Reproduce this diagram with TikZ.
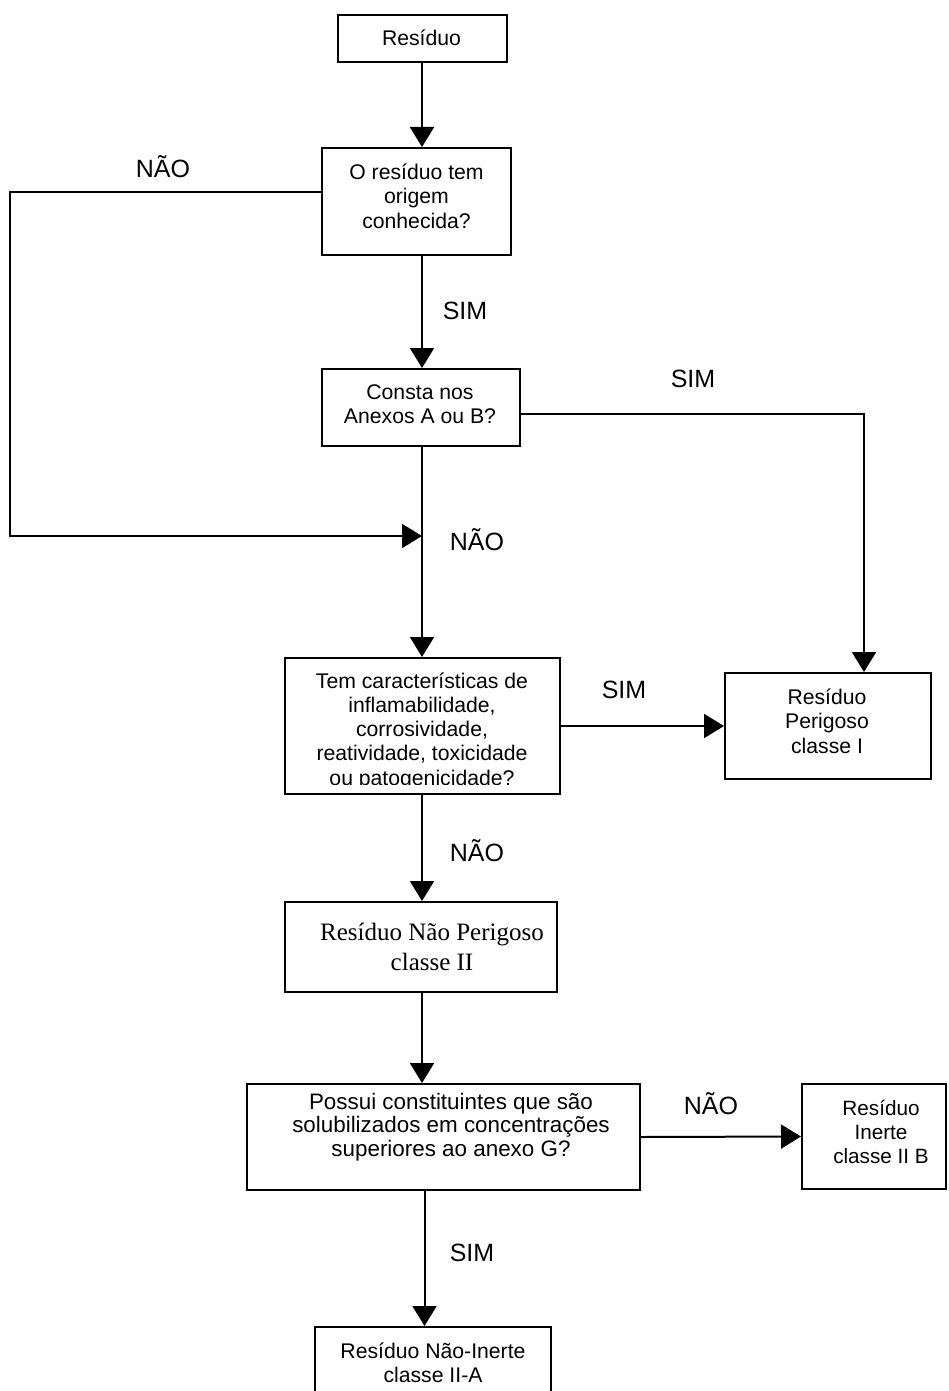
\documentclass[tikz,border=0pt]{standalone}
\usepackage{fontspec}
\setmainfont{Liberation Sans}
\newfontfamily\serifbox{Liberation Serif}
\usetikzlibrary{arrows.meta}

\begin{document}
\begin{tikzpicture}[x=1pt,y=-1pt,
  box/.style={draw,line width=2pt,inner sep=0pt,rectangle},
  txt/.style={align=center,inner sep=0pt,font=\fontsize{21.2}{24.3}\selectfont},
  stxt/.style={align=center,inner sep=0pt,font=\serifbox\fontsize{25}{30}\selectfont},
  lbl/.style={inner sep=0pt,font=\fontsize{25}{30}\selectfont},
  flow/.style={line width=2pt},
  arr/.style={flow,-{Triangle[length=20pt,width=24pt]}},
]
\clip (0,0) rectangle (948,1391);

% boxes
\node[box,minimum width=169,minimum height=47]  (b1) at (422.5,38.5) {};
\node[box,minimum width=189,minimum height=107] (b2) at (416.5,201.5) {};
\node[box,minimum width=198,minimum height=77]  (b3) at (421,407.5) {};
\node[box,minimum width=275,minimum height=136] (b4) at (422.5,726) {};
\node[box,minimum width=206,minimum height=106] (b5) at (828,726) {};
\node[box,minimum width=272,minimum height=90]  (b6) at (421,947) {};
\node[box,minimum width=393,minimum height=106] (b7) at (443.5,1137) {};
\node[box,minimum width=144,minimum height=105] (b9) at (874,1136.5) {};
\node[box,minimum width=236,minimum height=93]  (b8) at (433,1373.5) {};

% box texts
\node[txt] (t1) at (421.5,38) {Resíduo};
\node[txt] (t2) at (416.5,196) {O resíduo tem\\origem\\conhecida?};
\node[txt] (t3) at (420,404) {Consta nos\\Anexos A ou B?};
\begin{scope}
  \clip (286,659) rectangle (559,784);
  \node[txt] (t4) at (422,731) {Tem características de\\inflamabilidade,\\corrosividade,\\reatividade, toxicidade\\ou patogenicidade?};
\end{scope}
\node[txt] (t5) at (827,721) {Resíduo\\Perigoso\\classe I};
\node[stxt] (t6) at (432,947) {Resíduo Não Perigoso\\classe II};
\node[txt,font=\fontsize{22.4}{23.6}\selectfont] (t7) at (451,1127) {Possui constituintes que são\\solubilizados em concentrações\\superiores ao anexo G?};
\node[txt,font=\fontsize{20.7}{24.3}\selectfont] (t9) at (881,1132) {Resíduo\\Inerte\\classe II B};
\node[txt] (t8) at (433,1363) {Resíduo Não-Inerte\\classe II-A};

% routing points
\coordinate (spine)  at (422,0);
\coordinate (spineB) at (424.5,0);
\coordinate (nL)     at (10,192);
\coordinate (merge)  at (422,536);
\coordinate (sR)     at (864,414);

% connectors
\draw[arr] (spine |- b1.south) -- (spine |- b2.north);
\draw[arr] (spine |- b2.south) -- (spine |- b3.north);
\draw[arr] (b2.west |- nL) -- (nL) |- (merge);
\draw[arr] (spine |- b3.south) -- (spine |- b4.north);
\draw[arr] (b3.east |- sR) -- (sR) -- (sR |- b5.north);
\draw[arr] (b4.east) -- (b5.west);
\draw[arr] (spine |- b4.south) -- (spine |- b6.north);
\draw[arr] (spine |- b6.south) -- (spine |- b7.north);
\draw[arr] (b7.east) -- (b9.west);
\draw[arr] (spineB |- b7.south) -- (spineB |- b8.north);

% branch labels
\node[lbl] (l1) at (163,167)  {NÃO};
\node[lbl] (l2) at (465,311)  {SIM};
\node[lbl] (l3) at (693,379)  {SIM};
\node[lbl] (l4) at (477,540)  {NÃO};
\node[lbl] (l5) at (624,690)  {SIM};
\node[lbl] (l6) at (477,851)  {NÃO};
\node[lbl] (l7) at (711,1104) {NÃO};
\node[lbl] (l8) at (472,1253) {SIM};
\end{tikzpicture}
\end{document}
